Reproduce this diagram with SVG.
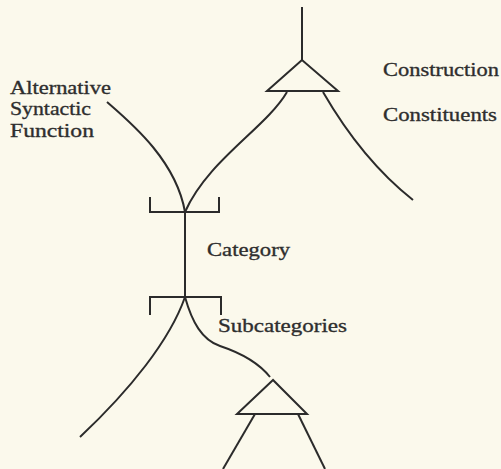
<svg xmlns="http://www.w3.org/2000/svg" width="501" height="469" viewBox="0 0 501 469">
  <style>
    .ln { fill: none; stroke: #2b2b2b; stroke-width: 2; stroke-linecap: butt; stroke-linejoin: miter; }
    .lbl { font-family: "Liberation Serif", "Times New Roman", serif; font-size: 19.5px; fill: #2e2e2e; stroke: #2e2e2e; stroke-width: 0.35; }
  </style>
  <rect width="501" height="469" fill="#fbf9ec"/>

  <!-- construction node: stem and triangle -->
  <g id="construction">
    <path class="ln" d="M302,7 V60"/>
    <path class="ln" d="M302,60 L267,91 H338 Z"/>
  </g>

  <!-- category brackets -->
  <g id="category-upper">
    <path class="ln" d="M150,197 V212 H219 V197"/>
  </g>
  <g id="category-lower">
    <path class="ln" d="M150,315 V297 H221 V315"/>
  </g>

  <!-- subcategory triangle -->
  <g id="subconstruction">
    <path class="ln" d="M273,380 L237,414 H307 Z"/>
  </g>

  <!-- connectors -->
  <g id="connectors">
    <path class="ln" d="M107,102 C130,122 176,160 185,212"/>
    <path class="ln" d="M287,92 C266,128 208,160 185,212"/>
    <path class="ln" d="M323,92 C345,130 375,170 413,200"/>
    <path class="ln" d="M185,212 V297"/>
    <path class="ln" d="M185,297 C170,340 130,390 80,437"/>
    <path class="ln" d="M185,297 C192,322 202,340 220,346 C238,352 258,362 270,377"/>
    <path class="ln" d="M255,414 L223,469"/>
    <path class="ln" d="M298,414 L325,469"/>
  </g>

  <!-- labels -->
  <g id="labels">
    <text class="lbl" x="10" y="94" textLength="101" lengthAdjust="spacingAndGlyphs">Alternative</text>
    <text class="lbl" x="10" y="115" textLength="81" lengthAdjust="spacingAndGlyphs">Syntactic</text>
    <text class="lbl" x="10" y="137" textLength="84" lengthAdjust="spacingAndGlyphs">Function</text>
    <text class="lbl" x="383" y="76" textLength="116" lengthAdjust="spacingAndGlyphs">Construction</text>
    <text class="lbl" x="383" y="121" textLength="114" lengthAdjust="spacingAndGlyphs">Constituents</text>
    <text class="lbl" x="207" y="256" textLength="83" lengthAdjust="spacingAndGlyphs">Category</text>
    <text class="lbl" x="218" y="332" textLength="129" lengthAdjust="spacingAndGlyphs">Subcategories</text>
  </g>
</svg>
